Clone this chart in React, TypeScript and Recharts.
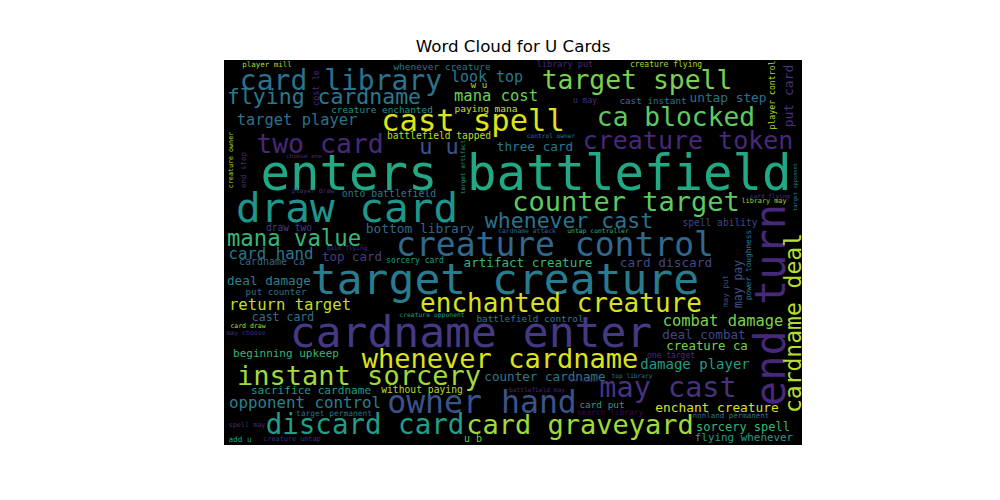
import React from 'react';
import { ScatterChart, Scatter, XAxis, YAxis } from 'recharts';

// word cloud terms, their weight (rendered size) and layout spot in the 578x385 cloud image
const words = [
  'enters battlefield', 'target creature', 'cardname enter', 'draw card', 'end turn',
  'creature control', 'owner hand', 'cast spell', 'may cast', 'card library',
  'discard card', 'card graveyard', 'whenever cardname', 'instant sorcery', 'counter target',
  'enchanted creature', 'two card', 'target spell', 'ca blocked', 'creature token',
  'cardname deal', 'mana value', 'flying cardname', 'whenever cast', 'u u',
  'look top', 'mana cost', 'target player', 'card hand', 'return target',
  'opponent control', 'combat damage', 'damage player', 'three card', 'untap step',
  'put card', 'bottom library', 'top card', 'deal damage', 'card discard',
  'artifact creature', 'counter cardname', 'deal combat', 'creature ca', 'enchant creature',
  'sorcery spell', 'may pay', 'cast card', 'beginning upkeep', 'sacrifice cardname',
  'flying whenever', 'cardname ca', 'u b', 'whenever creature', 'battlefield tapped',
  'paying mana', 'creature enchanted', 'onto battlefield', 'draw two', 'without paying',
  'spell ability', 'battlefield control', 'put counter', 'card put', 'cast instant',
  'w u', 'cost le', 'player control', 'library put', 'creature flying',
  'u may', 'target permanent', 'power toughness', 'search library', 'sorcery card',
  'one target', 'may put', 'add u', 'player mill', 'nonland permanent',
  'end step', 'creature owner', 'creature untap', 'spell may', 'library may',
  'card draw', 'may choose', 'player draw', 'cardname attack', 'untap controller',
  'creature opponent', 'gain flying', 'choose one', 'target artifact', 'card flying',
  'control owner', 'top library', 'le cast', 'battlefield may', 'target opponent',
];

const weights = [
  49, 43, 43, 41, 42,
  33, 31.5, 30.5, 28.5, 28,
  27.5, 27, 27, 27, 27,
  26, 26.5, 26.4, 26.3, 25,
  23, 22.3, 21.5, 21.5, 22,
  15, 15.5, 15.4, 15.7, 15.6,
  15.8, 15.4, 14, 12.7, 12.8,
  13, 12.9, 12.5, 12.7, 12.8,
  12.6, 12.6, 12.6, 12.3, 12.8,
  12, 11.4, 11.5, 11, 11.1,
  10.9, 10, 10, 9.5, 9.6,
  9.5, 9.4, 9.8, 9.6, 9.7,
  9.6, 9.4, 9.2, 9.4, 9.3,
  9, 8.5, 8.2, 8.5, 8,
  8, 7.9, 7.8, 7.9, 8,
  8, 7.6, 7.7, 7.5, 7.5,
  7.5, 6.7, 6.8, 6.8, 6.8,
  6.5, 6.5, 6.4, 6.4, 6.4,
  6.4, 6.2, 6, 6, 6,
  6.2, 6.2, 6.4, 6.2, 5.3,
];

const posX = [
  302, 281, 247, 123, 546,
  331, 258, 249, 444, 117,
  141, 356, 276, 135, 402,
  337, 96, 413, 452, 464,
  569, 70, 100, 345, 215,
  263, 272, 73, 47, 66,
  81, 499, 471, 311, 504,
  564, 196, 128, 45, 442,
  304, 321, 480, 483, 493,
  519, 514, 59, 62, 87,
  520, 48, 249, 218, 215,
  262, 158, 165, 65, 198,
  496, 306, 52, 378, 429,
  255, 92, 548, 341, 442,
  361, 110, 524, 386, 191,
  447, 501, 16, 43, 507,
  19, 7, 68, 23, 540,
  24, 22, 89, 303, 374,
  208, 123, 80, 238, 546,
  327, 408, 359, 313, 571,
];

const posY = [
  113, 219, 272, 148, 245,
  184, 342, 60, 327, 20,
  364, 364, 298, 315, 141,
  243, 83, 19, 57, 80,
  263, 178, 36, 160, 86,
  17, 36, 60, 193, 245,
  342, 261, 304, 86, 37,
  36, 168, 196, 220, 202,
  202, 316, 274, 286, 347,
  367, 224, 257, 293, 330,
  377, 201, 378, 6, 75,
  48, 49, 133, 167, 329,
  162, 258, 231, 344, 40,
  25, 28, 35, 4, 4,
  40, 353, 205, 352, 200,
  295, 231, 379, 4, 355,
  110, 100, 379, 365, 141,
  266, 273, 131, 171, 171,
  255, 187, 95, 107, 135,
  75, 315, 320, 329, 127,
];

const vertical = [
  0, 0, 0, 0, 1,
  0, 0, 0, 0, 0,
  0, 0, 0, 0, 0,
  0, 0, 0, 0, 0,
  1, 0, 0, 0, 0,
  0, 0, 0, 0, 0,
  0, 0, 0, 0, 0,
  1, 0, 0, 0, 0,
  0, 0, 0, 0, 0,
  0, 1, 0, 0, 0,
  0, 0, 0, 0, 0,
  0, 0, 0, 0, 0,
  0, 0, 0, 0, 0,
  0, 1, 1, 0, 0,
  0, 0, 1, 0, 0,
  0, 1, 0, 0, 0,
  1, 1, 0, 0, 0,
  0, 0, 0, 0, 0,
  0, 0, 0, 1, 0,
  0, 0, 0, 0, 1,
];

const colors = [
  '#22a884', '#287c8e', '#443983', '#1f958b', '#482878',
  '#31688e', '#3b528b', '#dde318', '#46327e', '#2c728e',
  '#1f9e89', '#a0da39', '#dde318', '#a0da39', '#5ec962',
  '#d8e219', '#482878', '#7ad151', '#5ec962', '#482878',
  '#b5de2b', '#35b779', '#2a788e', '#2c728e', '#3b528b',
  '#29798e', '#6ece58', '#2c728e', '#2a788e', '#c2df23',
  '#26828e', '#7ad151', '#1f9e89', '#2a788e', '#2c728e',
  '#46337e', '#31688e', '#433e85', '#26828e', '#3e4989',
  '#35b779', '#2a788e', '#3e4989', '#7ad151', '#d8e219',
  '#35b779', '#3b528b', '#2c728e', '#35b779', '#1f9e89',
  '#1f9e89', '#31688e', '#5ec962', '#2a788e', '#bddf26',
  '#c8e020', '#21918c', '#2a788e', '#433e85', '#b5de2b',
  '#3e4989', '#2a788e', '#2c728e', '#1f9e89', '#2a788e',
  '#b5de2b', '#482878', '#b5de2b', '#482878', '#a2da37',
  '#472d7b', '#2c728e', '#287c8e', '#440154', '#1f9e89',
  '#472d7b', '#3e4989', '#1f9e89', '#addc30', '#2c728e',
  '#472d7b', '#b5de2b', '#472d7b', '#472d7b', '#a0da39',
  '#b5de2b', '#472d7b', '#46327e', '#31688e', '#35b779',
  '#1f9e89', '#472d7b', '#472d7b', '#1f9e89', '#46337e',
  '#2c728e', '#2c728e', '#472d7b', '#482878', '#277f8e',
];

const cloudData = words.map((word, i) => ({
  word,
  weight: weights[i],
  x: posX[i],
  y: posY[i],
  vertical: vertical[i] === 1,
  color: colors[i],
}));

const WIDTH = 578;
const HEIGHT = 385;

const WordShape = (props: any) => {
  const { cx, cy, payload } = props;
  if (cx == null || cy == null) return null;
  return (
    <text
      x={cx}
      y={cy}
      fill={payload.color}
      fontSize={payload.weight}
      fontFamily="'DejaVu Sans Mono', monospace"
      textAnchor="middle"
      dominantBaseline="central"
      transform={payload.vertical ? `rotate(-90 ${cx} ${cy})` : undefined}
    >
      {payload.word}
    </text>
  );
};

const App: React.FC = () => {
  return (
    <div style={{ position: 'absolute', left: 0, top: 0, width: 1000, height: 500, background: '#fff' }}>
      <div
        style={{
          position: 'absolute',
          left: 224,
          top: 36,
          width: WIDTH,
          textAlign: 'center',
          fontFamily: "'DejaVu Sans', sans-serif",
          fontSize: 16.7,
          lineHeight: '20px',
          color: '#000',
        }}
      >
        Word Cloud for U Cards
      </div>
      {/* black canvas behind the cloud */}
      <div style={{ position: 'absolute', left: 224, top: 60, width: WIDTH, height: HEIGHT, background: '#000' }} />
      <div style={{ position: 'absolute', left: 0, top: 0 }}>
        <ScatterChart
          width={1000}
          height={500}
          margin={{ top: 60, left: 224, right: 1000 - 224 - WIDTH, bottom: 500 - 60 - HEIGHT }}
        >
          <XAxis type="number" dataKey="x" domain={[0, WIDTH]} hide />
          <YAxis type="number" dataKey="y" domain={[0, HEIGHT]} reversed hide />
          <Scatter data={cloudData} shape={WordShape} isAnimationActive={false} />
        </ScatterChart>
      </div>
    </div>
  );
};

export default App;
